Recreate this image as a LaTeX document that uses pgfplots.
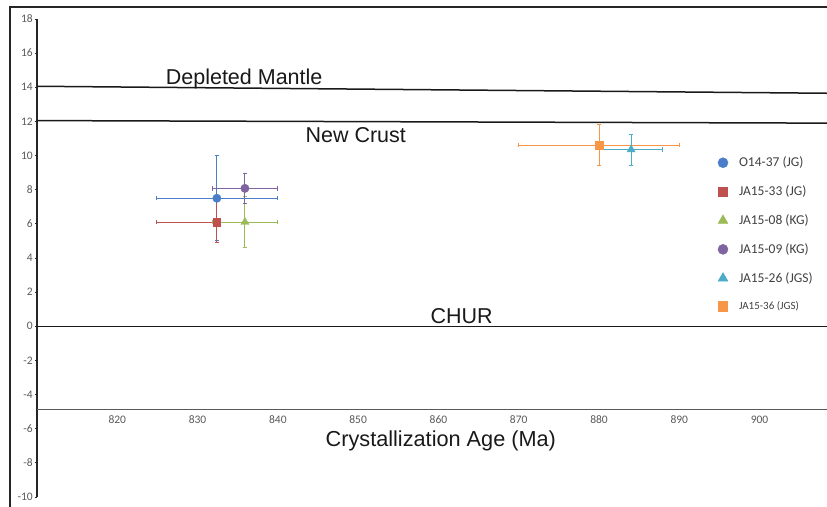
\documentclass[border=0pt]{standalone}
\usepackage{fontspec}
\setmainfont{Carlito}
\newfontfamily\arial{Liberation Sans}
\usepackage{pgfplots}
\pgfplotsset{compat=1.18}
\definecolor{sBlue}{HTML}{4A7EC8}
\definecolor{sRed}{HTML}{C0504D}
\definecolor{sGreen}{HTML}{9BBB59}
\definecolor{sPurple}{HTML}{8064A2}
\definecolor{sAqua}{HTML}{4BACC6}
\definecolor{sOrange}{HTML}{F79646}
\definecolor{tickgray}{HTML}{595959}

\pgfplotsset{
  sample/.style={only marks, color=#1,
    /pgfplots/error bars/x dir=both, /pgfplots/error bars/x explicit,
    /pgfplots/error bars/y dir=both, /pgfplots/error bars/y explicit,
    /pgfplots/error bars/error bar style={#1, line width=0.9pt},
    /pgfplots/error bars/error mark options={rotate=90, #1, mark size=2.2pt, line width=0.9pt}},
}

\begin{document}
\begin{tikzpicture}
\useasboundingbox (-37pt,-9pt) rectangle (790pt,497pt);
\clip (-37pt,-9pt) rectangle (790pt,497pt);
\begin{axis}[
  scale only axis, width=790pt, height=478pt,
  xmin=810, xmax=908.4, ymin=-10, ymax=18,
  axis x line*=bottom, axis y line*=left, separate axis lines,
  x axis line style={draw=none},
  y axis line style={-, line width=1.6pt, color=black!85},
  xtick={820,830,...,900}, ytick={-10,-8,...,18},
  xtick style={draw=none},
  ytick style={line width=0.8pt, color=black!85},
  tick align=outside, major tick length=2pt,
  /pgf/number format/assume math mode=true,
  /pgf/number format/1000 sep={},
  ticklabel style={font=\fontsize{11.5}{13}\selectfont, text=tickgray},
  yticklabel style={inner sep=2pt},
  xticklabel style={yshift=86.5pt},
  legend image code/.code={\path[draw=none, fill=none] (0pt,-5pt) rectangle (12pt,5pt);
    \draw[#1, mark options={scale=1.2}] plot coordinates {(6pt,0pt)};},
  legend style={at={(axis cs:894.3,10.1)}, anchor=north west, draw=none,
    fill=none, row sep=15.5pt, column sep=9pt, nodes={inner sep=1pt},
    font=\fontsize{13.5}{15}\selectfont, text=black!75},
  legend cell align=left,
]
% reference curves
\addplot[black!90, line width=1.5pt, forget plot] coordinates {(810,14.06) (908.4,13.65)};
\addplot[black!90, line width=1.5pt, forget plot] coordinates {(810,12.05) (908.4,11.9)};
\addplot[black!90, line width=1.5pt, forget plot] coordinates {(810,0) (908.4,0)};
% x axis line sits at about -4.85
\addplot[black!65, line width=0.9pt, forget plot] coordinates {(810,-4.85) (908.4,-4.85)};

\addplot[mark=*, mark size=4.2pt, sample=sBlue] coordinates {(832.4,7.5) +- (7.5,2.5)};
\addlegendentry{O14-37 (JG)}
\addplot[mark=square*, mark size=3.8pt, sample=sRed] coordinates {(832.4,6.1) +- (7.5,1.2)};
\addlegendentry{JA15-33 (JG)}
\addplot[mark=triangle*, mark size=4.7pt, sample=sGreen] coordinates {(835.9,6.1) +- (4,1.5)};
\addlegendentry{JA15-08 (KG)}
\addplot[mark=*, mark size=4.2pt, sample=sPurple] coordinates {(835.9,8.08) +- (4,0.9)};
\addlegendentry{JA15-09 (KG)}
\addplot[mark=triangle*, mark size=4.7pt, sample=sAqua] coordinates {(884.0,10.35) +- (3.9,0.9)};
\addlegendentry{JA15-26 (JGS)}
\addplot[mark=square*, mark size=3.8pt, sample=sOrange] coordinates {(880.0,10.62) +- (10,1.2)};
\addlegendentry{\fontsize{11}{13}\selectfont JA15-36 (JGS)}

\node[anchor=base, font=\arial\fontsize{21.5}{25}\selectfont, text=black!90] at (axis cs:835.8,14.19) {Depleted Mantle};
\node[anchor=base, font=\arial\fontsize{21.5}{25}\selectfont, text=black!90] at (axis cs:849.7,10.74) {New Crust};
\node[anchor=base, font=\arial\fontsize{21.5}{25}\selectfont, text=black!90] at (axis cs:862.9,0.19) {CHUR};
\node[anchor=base, font=\arial\fontsize{21.7}{25}\selectfont, text=black!90] at (axis cs:860.3,-7.07) {Crystallization Age (Ma)};
\end{axis}
\draw[line width=1.5pt, black!85] (-27pt,-30pt) -- (-27pt,490pt) -- (820pt,490pt);
\end{tikzpicture}
\end{document}
